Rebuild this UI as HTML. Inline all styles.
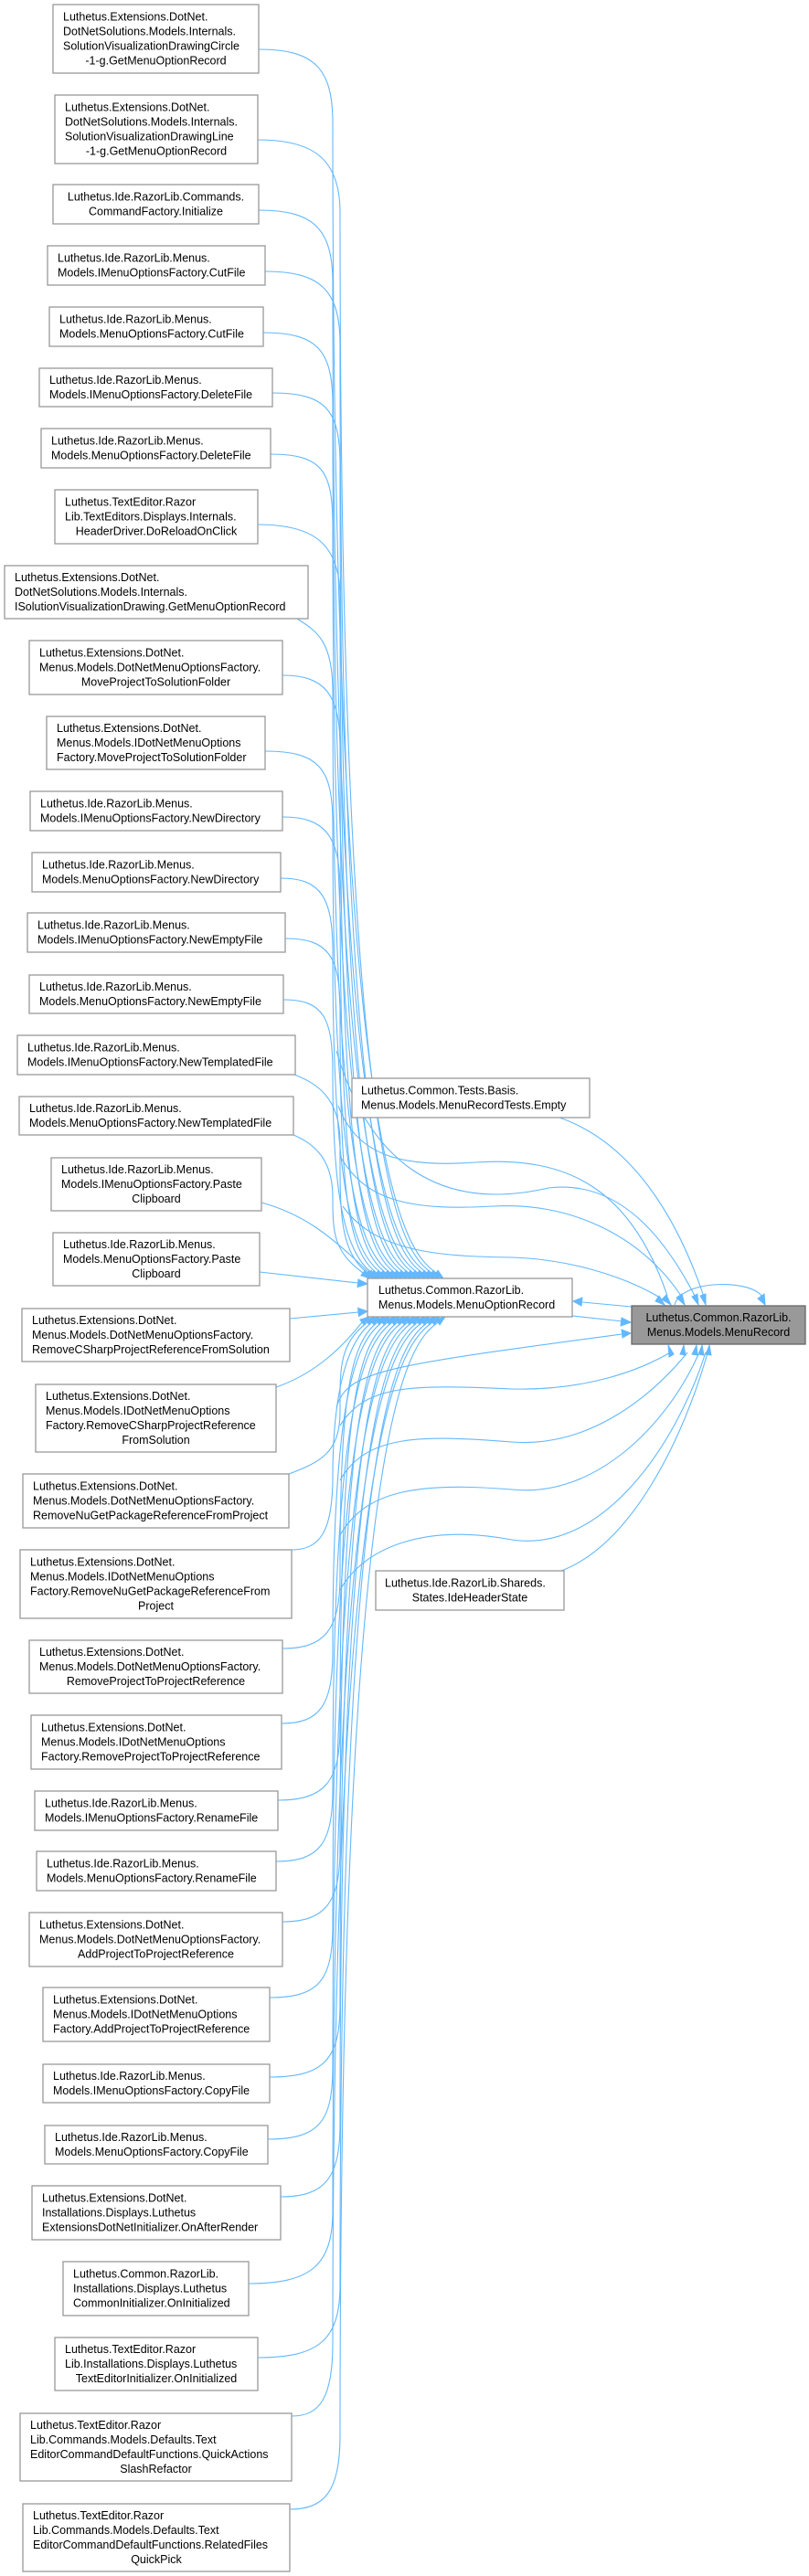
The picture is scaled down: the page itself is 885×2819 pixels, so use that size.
<!DOCTYPE html>
<html><head><meta charset="utf-8"><style>
html,body{margin:0;padding:0;background:#fff;}
svg{display:block;}
text{font-family:"Liberation Sans",Arial,sans-serif;font-size:12.5px;fill:#000;}
.b{fill:#fff;stroke:#999;stroke-width:1.3;}
.e{fill:none;stroke:#63b8ff;stroke-width:1.1;}
.a{fill:#63b8ff;stroke:#63b8ff;stroke-width:1;}
</style></head><body>
<svg width="885" height="2819" viewBox="0 0 885 2819" xmlns="http://www.w3.org/2000/svg">
<g>
<path class="e" d="M283,54 C343,54 364,74 364,134 C364,1300 445,1369 477,1393"/>
<path class="e" d="M282,153 C342,153 372,173 372,233 C372,1300 440,1369 472,1393"/>
<path class="e" d="M283,230 C343,230 364,250 364,310 C364,1300 435,1369 467,1393"/>
<path class="e" d="M290,297 C350,297 372,317 372,377 C372,1300 430,1369 462,1393"/>
<path class="e" d="M288,364 C348,364 364,384 364,444 C364,1300 425,1369 457,1393"/>
<path class="e" d="M298,430 C358,430 372,450 372,510 C372,1300 420,1369 452,1393"/>
<path class="e" d="M296,497 C354,497 364,517 364,577 C364,1300 415,1369 447,1393"/>
<path class="e" d="M282,574 C342,574 372,594 372,654 C372,1300 410,1369 442,1393"/>
<path class="e" d="M325,677 C345,690 364,700 364,757 C364,1300 405,1369 437,1393"/>
<path class="e" d="M309,739 C355,739 372,759 372,819 C372,1300 400,1369 432,1393"/>
<path class="e" d="M290,822 C350,822 364,842 364,902 C364,1300 395,1369 427,1393"/>
<path class="e" d="M309,894 C355,894 372,914 372,974 C372,1300 390,1369 422,1393"/>
<path class="e" d="M307,961 C350,961 364,981 364,1041 C364,1300 385,1369 417,1393"/>
<path class="e" d="M312,1027 C360,1027 372,1047 372,1107 C372,1300 380,1369 412,1393"/>
<path class="e" d="M310,1094 C354,1094 364,1114 364,1174 C364,1300 375,1369 407,1393"/>
<path class="e" d="M322,1176 C345,1185 372,1200 372,1250 C372,1320 370,1369 402,1393"/>
<path class="e" d="M321,1242 C345,1252 364,1270 364,1310 C364,1350 365,1369 397,1393"/>
<path class="e" d="M286,1316 C330,1328 360,1350 404,1393"/>
<path class="e" d="M284,1392 L392,1404"/>
<path class="e" d="M317,1443 L392,1436"/>
<path class="e" d="M302,1518 C340,1505 370,1480 396,1447"/>
<path class="e" d="M316,1613 C350,1600 372,1590 372,1545 C372,1500 370,1471 402,1447"/>
<path class="e" d="M319,1696 C350,1696 364,1676 364,1616 C364,1540 375,1471 407,1447"/>
<path class="e" d="M309,1804 C355,1804 372,1784 372,1724 C372,1540 381,1471 413,1447"/>
<path class="e" d="M308,1886 C350,1886 364,1866 364,1806 C364,1540 386,1471 418,1447"/>
<path class="e" d="M304,1970 C355,1970 372,1950 372,1890 C372,1540 392,1471 424,1447"/>
<path class="e" d="M302,2037 C350,2037 364,2017 364,1957 C364,1540 397,1471 429,1447"/>
<path class="e" d="M309,2103 C355,2103 372,2083 372,2023 C372,1540 403,1471 435,1447"/>
<path class="e" d="M295,2186 C350,2186 364,2166 364,2106 C364,1540 408,1471 440,1447"/>
<path class="e" d="M295,2273 C355,2273 372,2253 372,2193 C372,1540 414,1471 446,1447"/>
<path class="e" d="M293,2341 C350,2341 364,2321 364,2261 C364,1540 419,1471 451,1447"/>
<path class="e" d="M307,2404 C355,2404 372,2384 372,2324 C372,1540 425,1471 457,1447"/>
<path class="e" d="M272,2499 C340,2499 364,2479 364,2419 C364,1540 430,1471 462,1447"/>
<path class="e" d="M282,2580 C350,2580 372,2560 372,2500 C372,1540 436,1471 468,1447"/>
<path class="e" d="M319,2644 C350,2644 364,2624 364,2564 C364,1540 441,1471 473,1447"/>
<path class="e" d="M317,2746 C355,2746 372,2726 372,2666 C372,1540 447,1471 479,1447"/>
<path class="e" d="M370,1210 C390,1265 440,1278 520,1272 C620,1265 690,1300 730,1418"/>
<path class="e" d="M372,1265 C400,1315 450,1325 540,1320 C620,1315 700,1350 745,1418"/>
<path class="e" d="M375,1320 C410,1370 480,1375 560,1376 C620,1378 680,1395 722,1420"/>
<path class="e" d="M368,1150 C400,1260 470,1330 600,1300 C680,1290 730,1360 760,1418"/>
<path class="e" d="M372,1560 C400,1515 450,1515 560,1520 C640,1522 700,1500 735,1479"/>
<path class="e" d="M372,1620 C400,1570 460,1570 560,1578 C650,1585 720,1520 752,1480"/>
<path class="e" d="M372,1680 C400,1630 460,1622 560,1630 C650,1640 730,1560 765,1480"/>
<path class="e" d="M372,1740 C400,1690 470,1668 560,1685 C660,1700 740,1580 772,1480"/>
<path class="e" d="M368,1540 C380,1500 420,1495 680,1460"/>
<path class="e" d="M612,1223 C690,1250 740,1330 770,1419"/>
<path class="e" d="M614,1719 C690,1690 745,1580 774,1481"/>
<path class="e" d="M626,1440 L681,1446"/>
<path class="e" d="M691,1430 L637,1425"/>
<path class="e" d="M738,1428 C745,1400 820,1400 833,1418"/>
</g>
<g>
<polygon class="a" points="485,1399 474.9,1395.8 479.1,1390.2"/>
<polygon class="a" points="480,1399 469.9,1395.8 474.1,1390.2"/>
<polygon class="a" points="475,1399 464.9,1395.8 469.1,1390.2"/>
<polygon class="a" points="470,1399 459.9,1395.8 464.1,1390.2"/>
<polygon class="a" points="465,1399 454.9,1395.8 459.1,1390.2"/>
<polygon class="a" points="460,1399 449.9,1395.8 454.1,1390.2"/>
<polygon class="a" points="455,1399 444.9,1395.8 449.1,1390.2"/>
<polygon class="a" points="450,1399 439.9,1395.8 444.1,1390.2"/>
<polygon class="a" points="445,1399 434.9,1395.8 439.1,1390.2"/>
<polygon class="a" points="440,1399 429.9,1395.8 434.1,1390.2"/>
<polygon class="a" points="435,1399 424.9,1395.8 429.1,1390.2"/>
<polygon class="a" points="430,1399 419.9,1395.8 424.1,1390.2"/>
<polygon class="a" points="425,1399 414.9,1395.8 419.1,1390.2"/>
<polygon class="a" points="420,1399 409.9,1395.8 414.1,1390.2"/>
<polygon class="a" points="415,1399 404.9,1395.8 409.1,1390.2"/>
<polygon class="a" points="410,1399 399.9,1395.8 404.1,1390.2"/>
<polygon class="a" points="405,1399 394.9,1395.8 399.1,1390.2"/>
<polygon class="a" points="412,1399 401.9,1395.8 406.1,1390.2"/>
<polygon class="a" points="402,1405 392,1400 391,1408.5"/>
<polygon class="a" points="402,1435 391.6,1431.4 392.4,1440.4"/>
<polygon class="a" points="404,1441 398.1,1449.8 393.9,1444.2"/>
<polygon class="a" points="410,1441 404.1,1449.8 399.9,1444.2"/>
<polygon class="a" points="415,1441 409.1,1449.8 404.9,1444.2"/>
<polygon class="a" points="421,1441 415.1,1449.8 410.9,1444.2"/>
<polygon class="a" points="426,1441 420.1,1449.8 415.9,1444.2"/>
<polygon class="a" points="432,1441 426.1,1449.8 421.9,1444.2"/>
<polygon class="a" points="437,1441 431.1,1449.8 426.9,1444.2"/>
<polygon class="a" points="443,1441 437.1,1449.8 432.9,1444.2"/>
<polygon class="a" points="448,1441 442.1,1449.8 437.9,1444.2"/>
<polygon class="a" points="454,1441 448.1,1449.8 443.9,1444.2"/>
<polygon class="a" points="459,1441 453.1,1449.8 448.9,1444.2"/>
<polygon class="a" points="465,1441 459.1,1449.8 454.9,1444.2"/>
<polygon class="a" points="470,1441 464.1,1449.8 459.9,1444.2"/>
<polygon class="a" points="476,1441 470.1,1449.8 465.9,1444.2"/>
<polygon class="a" points="481,1441 475.1,1449.8 470.9,1444.2"/>
<polygon class="a" points="487,1441 481.1,1449.8 476.9,1444.2"/>
<polygon class="a" points="734,1428 724,1422 729,1417"/>
<polygon class="a" points="749,1428 740,1420 746,1416"/>
<polygon class="a" points="727,1428 717,1424 721,1418"/>
<polygon class="a" points="764,1428 757,1419 763,1416"/>
<polygon class="a" points="772,1428 766,1418 772,1416"/>
<polygon class="a" points="837,1428 829,1421 836,1416"/>
<polygon class="a" points="731,1472 737,1482 732,1485"/>
<polygon class="a" points="748,1472 750,1483 744,1482"/>
<polygon class="a" points="762,1472 763,1483 757,1482"/>
<polygon class="a" points="768,1472 770,1483 764,1482"/>
<polygon class="a" points="776,1472 778,1483 772,1482"/>
<polygon class="a" points="690,1459 680,1455 681,1464"/>
<polygon class="a" points="690,1447 680,1442 679,1451"/>
<polygon class="a" points="627,1424 637,1420 636,1429"/>
</g>

<rect class="b" x="58" y="5" width="225" height="75"/>
<text x="69" y="22.5">Luthetus.Extensions.DotNet.</text><text x="69" y="38.5">DotNetSolutions.Models.Internals.</text><text x="69" y="54.5">SolutionVisualizationDrawingCircle</text><text x="170.5" y="70.5" text-anchor="middle">-1-g.GetMenuOptionRecord</text>
<rect class="b" x="60" y="104" width="222" height="75"/>
<text x="71" y="121.5">Luthetus.Extensions.DotNet.</text><text x="71" y="137.5">DotNetSolutions.Models.Internals.</text><text x="71" y="153.5">SolutionVisualizationDrawingLine</text><text x="171" y="169.5" text-anchor="middle">-1-g.GetMenuOptionRecord</text>
<rect class="b" x="58" y="202" width="225" height="43"/>
<text x="170.5" y="219.5" text-anchor="middle">Luthetus.Ide.RazorLib.Commands.</text><text x="170.5" y="235.5" text-anchor="middle">CommandFactory.Initialize</text>
<rect class="b" x="52" y="269" width="238" height="43"/>
<text x="63" y="286.5">Luthetus.Ide.RazorLib.Menus.</text><text x="63" y="302.5">Models.IMenuOptionsFactory.CutFile</text>
<rect class="b" x="54" y="336" width="234" height="43"/>
<text x="65" y="353.5">Luthetus.Ide.RazorLib.Menus.</text><text x="65" y="369.5">Models.MenuOptionsFactory.CutFile</text>
<rect class="b" x="43" y="403" width="255" height="42"/>
<text x="54" y="420">Luthetus.Ide.RazorLib.Menus.</text><text x="54" y="436">Models.IMenuOptionsFactory.DeleteFile</text>
<rect class="b" x="45" y="469" width="251" height="43"/>
<text x="56" y="486.5">Luthetus.Ide.RazorLib.Menus.</text><text x="56" y="502.5">Models.MenuOptionsFactory.DeleteFile</text>
<rect class="b" x="60" y="536" width="222" height="59"/>
<text x="71" y="553.5">Luthetus.TextEditor.Razor</text><text x="71" y="569.5">Lib.TextEditors.Displays.Internals.</text><text x="171" y="585.5" text-anchor="middle">HeaderDriver.DoReloadOnClick</text>
<rect class="b" x="5" y="619" width="332" height="58"/>
<text x="16" y="636">Luthetus.Extensions.DotNet.</text><text x="16" y="652">DotNetSolutions.Models.Internals.</text><text x="16" y="668">ISolutionVisualizationDrawing.GetMenuOptionRecord</text>
<rect class="b" x="32" y="701" width="277" height="59"/>
<text x="43" y="718.5">Luthetus.Extensions.DotNet.</text><text x="43" y="734.5">Menus.Models.DotNetMenuOptionsFactory.</text><text x="170.5" y="750.5" text-anchor="middle">MoveProjectToSolutionFolder</text>
<rect class="b" x="51" y="784" width="239" height="58"/>
<text x="62" y="801">Luthetus.Extensions.DotNet.</text><text x="62" y="817">Menus.Models.IDotNetMenuOptions</text><text x="62" y="833">Factory.MoveProjectToSolutionFolder</text>
<rect class="b" x="33" y="866" width="276" height="43"/>
<text x="44" y="883.5">Luthetus.Ide.RazorLib.Menus.</text><text x="44" y="899.5">Models.IMenuOptionsFactory.NewDirectory</text>
<rect class="b" x="35" y="933" width="272" height="43"/>
<text x="46" y="950.5">Luthetus.Ide.RazorLib.Menus.</text><text x="46" y="966.5">Models.MenuOptionsFactory.NewDirectory</text>
<rect class="b" x="30" y="999" width="282" height="43"/>
<text x="41" y="1016.5">Luthetus.Ide.RazorLib.Menus.</text><text x="41" y="1032.5">Models.IMenuOptionsFactory.NewEmptyFile</text>
<rect class="b" x="32" y="1067" width="278" height="42"/>
<text x="43" y="1084">Luthetus.Ide.RazorLib.Menus.</text><text x="43" y="1100">Models.MenuOptionsFactory.NewEmptyFile</text>
<rect class="b" x="19" y="1133" width="304" height="43"/>
<text x="30" y="1150.5">Luthetus.Ide.RazorLib.Menus.</text><text x="30" y="1166.5">Models.IMenuOptionsFactory.NewTemplatedFile</text>
<rect class="b" x="21" y="1200" width="300" height="42"/>
<text x="32" y="1217">Luthetus.Ide.RazorLib.Menus.</text><text x="32" y="1233">Models.MenuOptionsFactory.NewTemplatedFile</text>
<rect class="b" x="56" y="1267" width="230" height="58"/>
<text x="67" y="1284">Luthetus.Ide.RazorLib.Menus.</text><text x="67" y="1300">Models.IMenuOptionsFactory.Paste</text><text x="171" y="1316" text-anchor="middle">Clipboard</text>
<rect class="b" x="58" y="1349" width="226" height="58"/>
<text x="69" y="1366">Luthetus.Ide.RazorLib.Menus.</text><text x="69" y="1382">Models.MenuOptionsFactory.Paste</text><text x="171" y="1398" text-anchor="middle">Clipboard</text>
<rect class="b" x="24" y="1432" width="293" height="58"/>
<text x="35" y="1449">Luthetus.Extensions.DotNet.</text><text x="35" y="1465">Menus.Models.DotNetMenuOptionsFactory.</text><text x="35" y="1481">RemoveCSharpProjectReferenceFromSolution</text>
<rect class="b" x="39" y="1515" width="263" height="74"/>
<text x="50" y="1532">Luthetus.Extensions.DotNet.</text><text x="50" y="1548">Menus.Models.IDotNetMenuOptions</text><text x="50" y="1564">Factory.RemoveCSharpProjectReference</text><text x="170.5" y="1580" text-anchor="middle">FromSolution</text>
<rect class="b" x="25" y="1613" width="291" height="59"/>
<text x="36" y="1630.5">Luthetus.Extensions.DotNet.</text><text x="36" y="1646.5">Menus.Models.DotNetMenuOptionsFactory.</text><text x="36" y="1662.5">RemoveNuGetPackageReferenceFromProject</text>
<rect class="b" x="22" y="1696" width="297" height="75"/>
<text x="33" y="1713.5">Luthetus.Extensions.DotNet.</text><text x="33" y="1729.5">Menus.Models.IDotNetMenuOptions</text><text x="33" y="1745.5">Factory.RemoveNuGetPackageReferenceFrom</text><text x="170.5" y="1761.5" text-anchor="middle">Project</text>
<rect class="b" x="32" y="1795" width="277" height="58"/>
<text x="43" y="1812">Luthetus.Extensions.DotNet.</text><text x="43" y="1828">Menus.Models.DotNetMenuOptionsFactory.</text><text x="170.5" y="1844" text-anchor="middle">RemoveProjectToProjectReference</text>
<rect class="b" x="34" y="1877" width="274" height="59"/>
<text x="45" y="1894.5">Luthetus.Extensions.DotNet.</text><text x="45" y="1910.5">Menus.Models.IDotNetMenuOptions</text><text x="45" y="1926.5">Factory.RemoveProjectToProjectReference</text>
<rect class="b" x="38" y="1960" width="266" height="43"/>
<text x="49" y="1977.5">Luthetus.Ide.RazorLib.Menus.</text><text x="49" y="1993.5">Models.IMenuOptionsFactory.RenameFile</text>
<rect class="b" x="40" y="2026" width="262" height="43"/>
<text x="51" y="2043.5">Luthetus.Ide.RazorLib.Menus.</text><text x="51" y="2059.5">Models.MenuOptionsFactory.RenameFile</text>
<rect class="b" x="32" y="2093" width="277" height="59"/>
<text x="43" y="2110.5">Luthetus.Extensions.DotNet.</text><text x="43" y="2126.5">Menus.Models.DotNetMenuOptionsFactory.</text><text x="170.5" y="2142.5" text-anchor="middle">AddProjectToProjectReference</text>
<rect class="b" x="47" y="2175" width="248" height="59"/>
<text x="58" y="2192.5">Luthetus.Extensions.DotNet.</text><text x="58" y="2208.5">Menus.Models.IDotNetMenuOptions</text><text x="58" y="2224.5">Factory.AddProjectToProjectReference</text>
<rect class="b" x="47" y="2259" width="248" height="42"/>
<text x="58" y="2276">Luthetus.Ide.RazorLib.Menus.</text><text x="58" y="2292">Models.IMenuOptionsFactory.CopyFile</text>
<rect class="b" x="49" y="2326" width="244" height="42"/>
<text x="60" y="2343">Luthetus.Ide.RazorLib.Menus.</text><text x="60" y="2359">Models.MenuOptionsFactory.CopyFile</text>
<rect class="b" x="35" y="2392" width="272" height="59"/>
<text x="46" y="2409.5">Luthetus.Extensions.DotNet.</text><text x="46" y="2425.5">Installations.Displays.Luthetus</text><text x="46" y="2441.5">ExtensionsDotNetInitializer.OnAfterRender</text>
<rect class="b" x="69" y="2475" width="203" height="59"/>
<text x="80" y="2492.5">Luthetus.Common.RazorLib.</text><text x="80" y="2508.5">Installations.Displays.Luthetus</text><text x="80" y="2524.5">CommonInitializer.OnInitialized</text>
<rect class="b" x="60" y="2558" width="222" height="58"/>
<text x="71" y="2575">Luthetus.TextEditor.Razor</text><text x="71" y="2591">Lib.Installations.Displays.Luthetus</text><text x="171" y="2607" text-anchor="middle">TextEditorInitializer.OnInitialized</text>
<rect class="b" x="22" y="2641" width="297" height="74"/>
<text x="33" y="2658">Luthetus.TextEditor.Razor</text><text x="33" y="2674">Lib.Commands.Models.Defaults.Text</text><text x="33" y="2690">EditorCommandDefaultFunctions.QuickActions</text><text x="170.5" y="2706" text-anchor="middle">SlashRefactor</text>
<rect class="b" x="25" y="2740" width="292" height="74"/>
<text x="36" y="2757">Luthetus.TextEditor.Razor</text><text x="36" y="2773">Lib.Commands.Models.Defaults.Text</text><text x="36" y="2789">EditorCommandDefaultFunctions.RelatedFiles</text><text x="171" y="2805" text-anchor="middle">QuickPick</text>

<rect class="b" x="385" y="1180" width="260" height="43"/>
<text x="395" y="1197.5">Luthetus.Common.Tests.Basis.</text><text x="395" y="1213.5">Menus.Models.MenuRecordTests.Empty</text>
<rect class="b" x="402" y="1399" width="224" height="42"/>
<text x="414" y="1416">Luthetus.Common.RazorLib.</text><text x="414" y="1432">Menus.Models.MenuOptionRecord</text>
<rect x="691" y="1429" width="190" height="42" fill="#999" stroke="#666" stroke-width="1.3"/>
<text x="786" y="1446" text-anchor="middle">Luthetus.Common.RazorLib.</text><text x="786" y="1462" text-anchor="middle">Menus.Models.MenuRecord</text>
<rect class="b" x="411" y="1719" width="206" height="43"/>
<text x="421" y="1736.5">Luthetus.Ide.RazorLib.Shareds.</text><text x="514" y="1752.5" text-anchor="middle">States.IdeHeaderState</text>
</svg>
</body></html>
